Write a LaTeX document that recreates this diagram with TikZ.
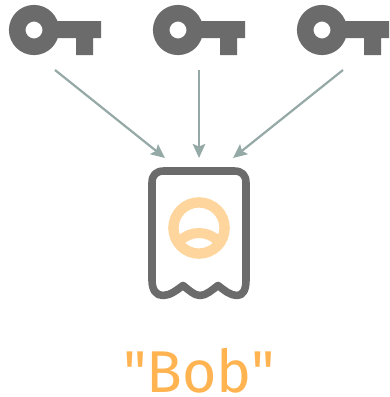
\documentclass[tikz,border=0pt]{standalone}
\usepackage{fontspec}
\setmainfont{Fira Sans}[Ligatures=TeXOff]
\usetikzlibrary{arrows.meta}
\definecolor{keygray}{HTML}{6B6B6B}
\definecolor{arrowgray}{HTML}{95A9A7}
\definecolor{ringorange}{HTML}{FFD59E}
\definecolor{textorange}{HTML}{FFB451}
\tikzset{
  x=1pt,y=-1pt,
  conn/.style={draw=arrowgray,line width=2.2pt,-{Stealth[length=14pt,width=12.5pt,inset=2.5pt]}},
  keyicon/.pic={
    \draw[keygray,line width=16.6pt] (0,0) circle[radius=16.75];
    \fill[keygray] (20,-9) rectangle (67,8) (42,8) rectangle (59,25);
  },
  lbl/.style={text=textorange,font=\fontsize{59}{59}\selectfont,inner sep=0pt,anchor=base}
}
\begin{document}
\begin{tikzpicture}
\useasboundingbox (0,0) rectangle (390,397);
\coordinate (k1) at (34,30);
\coordinate (k2) at (178,30);
\coordinate (k3) at (322,30);
\pic at (k1) {keyicon};
\pic at (k2) {keyicon};
\pic at (k3) {keyicon};
\coordinate (s1) at (55,70);
\coordinate (s2) at (199,70);
\coordinate (s3) at (343,70);
\coordinate (e1) at (165,158);
\coordinate (e2) at (199,158);
\coordinate (e3) at (233,158);
\draw[conn] (s1) -- (e1);
\draw[conn] (s2) -- (e2);
\draw[conn] (s3) -- (e3);
\draw[keygray,line width=7.6pt,line join=round]
  (152,183) .. controls (152,175) and (156,171) .. (164,171)
  -- (234,171) .. controls (242,171) and (246,175) .. (246,183)
  -- (246,280) .. controls (246,290) and (243,295.5) .. (237,295.5)
  .. controls (230,295.5) and (224,290) .. (218,285.5)
  .. controls (212,290) and (206,295.5) .. (200,295.5)
  .. controls (194,295.5) and (189,290) .. (183,285.5)
  .. controls (177,290) and (170,295.5) .. (163,295.5)
  .. controls (156,295.5) and (152,290) .. (152,280) -- cycle;
\draw[ringorange,line width=10.4pt] (199,228) circle[radius=25.6];
\begin{scope}
\clip (199,228) circle[radius=27];
\draw[ringorange,line width=10pt] (199,260) circle[radius=27];
\end{scope}
\node[lbl] (bob) at (199,392) {"Bob"};
\end{tikzpicture}
\end{document}
